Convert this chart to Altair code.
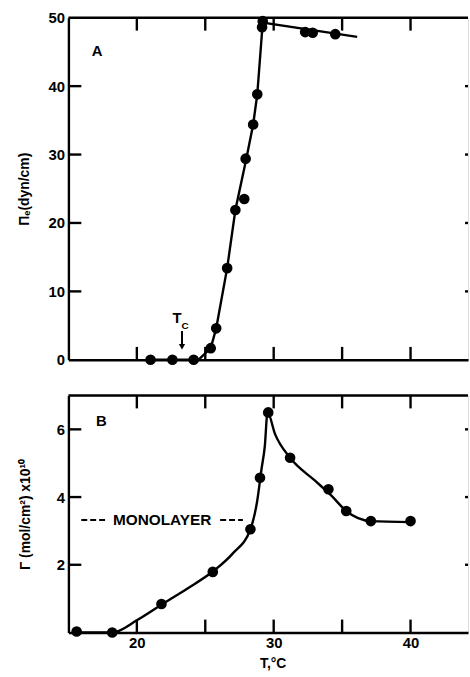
import altair as alt
import pandas as pd

# ---------------- data ----------------
# Panel A: equilibrium spreading pressure vs temperature
a_T = [21.0, 22.6, 24.15, 25.4, 25.8, 26.6, 27.2, 27.85, 27.95, 28.5, 28.8, 29.15, 29.2, 32.3, 32.85, 34.5]
a_P = [0.0, 0.0, 0.0, 1.7, 4.6, 13.4, 21.9, 23.5, 29.4, 34.4, 38.8, 48.6, 49.5, 47.9, 47.8, 47.6]
a_fit_T = [21.0, 24.5, 25.4, 25.8, 26.6, 27.2, 28.0, 28.5, 28.8, 29.2, 36.1]
a_fit_P = [0.0, 0.0, 1.7, 4.6, 13.4, 21.9, 29.4, 34.4, 38.8, 49.3, 47.2]

# Panel B: surface excess vs temperature
b_T = [15.6, 18.2, 21.8, 25.55, 28.3, 29.0, 29.6, 31.2, 34.0, 35.3, 37.1, 40.0]
b_G = [0.03, 0.0, 0.84, 1.79, 3.05, 4.57, 6.5, 5.16, 4.23, 3.59, 3.29, 3.29]
b_fit_T = [15.6, 18.2, 20.0, 21.8, 23.7, 25.55, 27.0, 28.3, 28.8, 29.1, 29.35, 29.55,
           30.1, 31.2, 33.0, 34.2, 35.3, 37.1, 40.0]
b_fit_G = [0.0, 0.0, 0.36, 0.82, 1.3, 1.8, 2.33, 3.05, 3.9, 4.8, 5.5, 6.5,
           5.86, 5.16, 4.49, 4.05, 3.59, 3.29, 3.26]

x_ticks = [20, 25, 30, 35, 40]
x_labels_b = [20, 30, 40]
a_y_ticks = [10, 20, 30, 40]
a_y_labels = [0, 10, 20, 30, 40, 50]
b_y_ticks = [2, 4, 6]

x_domain = [15, 44.2]
a_y_domain = [0, 50]
b_y_domain = [0, 7]

tc_T = 23.3
tc_arrow_top = 4.2
tc_arrow_head = 1.9
tc_label_P = 6.0
monolayer_G = 3.32
monolayer_text_T = 21.85
mono_left = [15.94, 17.9]
mono_right = [26.09, 27.75]

W = 403
HA = 345
HB = 239
FONT = "Liberation Sans"
LW = 2.4
TICK_PX = 13      # inward tick length (style)
RTICK_PX = 3      # visible part of right-hand ticks (style)

xs = alt.Scale(domain=x_domain, nice=False, zero=False)


def frame_df(ydom, H, yticks, yname):
    """Inward tick segments + top border, built from the tick lists."""
    x0, x1 = x_domain
    y0, y1 = ydom
    dx = TICK_PX * (x1 - x0) / W
    dxr = RTICK_PX * (x1 - x0) / W
    dy = TICK_PX * (y1 - y0) / H
    rows = []
    for v in yticks:
        rows.append((x0, v, x0 + dx, v))
        rows.append((x1 - dxr, v, x1, v))
    for t in x_ticks:
        rows.append((t, y1, t, y1 - dy))
        rows.append((t, y0, t, y0 + dy))
    rows.append((x0, y1, x1, y1))
    return pd.DataFrame(rows, columns=["T", yname, "T2", yname + "2"])


def frame_layer(ys, ydom, H, yticks, yname):
    return alt.Chart(frame_df(ydom, H, yticks, yname)).mark_rule(
        color="black", strokeWidth=LW).encode(
        x=alt.X("T:Q", scale=xs), x2="T2:Q",
        y=alt.Y(f"{yname}:Q", scale=ys), y2=f"{yname}2:Q")


# ---------------- panel A ----------------
ysA = alt.Scale(domain=a_y_domain, nice=False)
dfA = pd.DataFrame({"T": a_T, "P": a_P})
fitA = pd.DataFrame({"T": a_fit_T, "P": a_fit_P, "i": list(range(len(a_fit_T)))})

lineA = alt.Chart(fitA).mark_line(color="black", strokeWidth=LW).encode(
    x=alt.X("T:Q", scale=xs,
            axis=alt.Axis(labels=False, ticks=False, title=None, domain=True)),
    y=alt.Y("P:Q", scale=ysA,
            axis=alt.Axis(values=a_y_labels, ticks=False, title="Πₑ(dyn/cm)", titleX=-40,
                          titleY=HA / 2, titleBaseline="alphabetic")),
    order="i:O")
ptsA = alt.Chart(dfA).mark_circle(color="black", opacity=1, size=115).encode(
    x=alt.X("T:Q", scale=xs), y=alt.Y("P:Q", scale=ysA))

txtA = alt.Chart(pd.DataFrame({"T": [17.1], "P": [45.2], "t": ["A"]})).mark_text(
    font=FONT, fontWeight="bold", fontSize=15).encode(
    x=alt.X("T:Q", scale=xs), y=alt.Y("P:Q", scale=ysA), text="t:N")
tcT = alt.Chart(pd.DataFrame({"T": [tc_T], "P": [tc_label_P], "t": ["T"]})).mark_text(
    font=FONT, fontWeight="bold", fontSize=15, dx=-5, dy=-1).encode(
    x=alt.X("T:Q", scale=xs), y=alt.Y("P:Q", scale=ysA), text="t:N")
tcC = alt.Chart(pd.DataFrame({"T": [tc_T], "P": [tc_label_P], "t": ["C"]})).mark_text(
    font=FONT, fontWeight="bold", fontSize=10, dx=3, dy=7).encode(
    x=alt.X("T:Q", scale=xs), y=alt.Y("P:Q", scale=ysA), text="t:N")
arrowShaft = alt.Chart(pd.DataFrame({"T": [tc_T], "P": [tc_arrow_top], "P2": [tc_arrow_head]})).mark_rule(
    color="black", strokeWidth=2).encode(
    x=alt.X("T:Q", scale=xs), y=alt.Y("P:Q", scale=ysA), y2="P2:Q")
arrowHead = alt.Chart(pd.DataFrame({"T": [tc_T], "P": [tc_arrow_head]})).mark_point(
    shape="triangle-down", filled=True, color="black", opacity=1, size=40).encode(
    x=alt.X("T:Q", scale=xs), y=alt.Y("P:Q", scale=ysA))

panelA = alt.layer(
    frame_layer(ysA, a_y_domain, HA, a_y_ticks, "P"),
    lineA, ptsA, txtA, tcT, tcC, arrowShaft, arrowHead
).properties(width=W, height=HA)

# ---------------- panel B ----------------
ysB = alt.Scale(domain=b_y_domain, nice=False)
dfB = pd.DataFrame({"T": b_T, "G": b_G})
fitB = pd.DataFrame({"T": b_fit_T, "G": b_fit_G, "i": list(range(len(b_fit_T)))})

lineB = alt.Chart(fitB).mark_line(color="black", strokeWidth=LW, interpolate="monotone").encode(
    x=alt.X("T:Q", scale=xs,
            axis=alt.Axis(values=x_labels_b, ticks=False, title="T,°C", titleX=206,
                          titlePadding=6, labelPadding=3)),
    y=alt.Y("G:Q", scale=ysB,
            axis=alt.Axis(values=b_y_ticks, ticks=False, title="Γ (mol/cm²) x10¹⁰", titleX=-39,
                          titleY=HB / 2, titleBaseline="alphabetic")),
    order="i:O")
ptsB = alt.Chart(dfB).mark_circle(color="black", opacity=1, size=115).encode(
    x=alt.X("T:Q", scale=xs), y=alt.Y("G:Q", scale=ysB))
txtB = alt.Chart(pd.DataFrame({"T": [17.4], "G": [6.26], "t": ["B"]})).mark_text(
    font=FONT, fontWeight="bold", fontSize=15).encode(
    x=alt.X("T:Q", scale=xs), y=alt.Y("G:Q", scale=ysB), text="t:N")
monoTxt = alt.Chart(pd.DataFrame({"T": [monolayer_text_T], "G": [monolayer_G], "t": ["MONOLAYER"]})).mark_text(
    font=FONT, fontWeight="bold", fontSize=15.5).encode(
    x=alt.X("T:Q", scale=xs), y=alt.Y("G:Q", scale=ysB), text="t:N")
monoDash = alt.Chart(pd.DataFrame({"T": [mono_left[0], mono_right[0]],
                                   "T2": [mono_left[1], mono_right[1]],
                                   "G": [monolayer_G, monolayer_G]})).mark_rule(
    color="black", strokeWidth=2, strokeDash=[6, 3]).encode(
    x=alt.X("T:Q", scale=xs), x2="T2:Q", y=alt.Y("G:Q", scale=ysB))

panelB = alt.layer(
    frame_layer(ysB, b_y_domain, HB, b_y_ticks, "G"),
    lineB, ptsB, txtB, monoTxt, monoDash
).properties(width=W, height=HB)

chart = alt.vconcat(panelA, panelB, spacing=25).properties(
    padding={"left": 17, "top": 7, "right": 0, "bottom": 0},
    background="white"
).configure_axis(
    labelFont=FONT, labelFontSize=15, labelFontWeight="bold", labelColor="black",
    titleFont=FONT, titleFontSize=14, titleFontWeight="bold", titleColor="black",
    domainColor="black", domainWidth=LW, grid=False, labelPadding=4
)

chart.save("out.html", embed_options={"renderer": "svg", "actions": False})
